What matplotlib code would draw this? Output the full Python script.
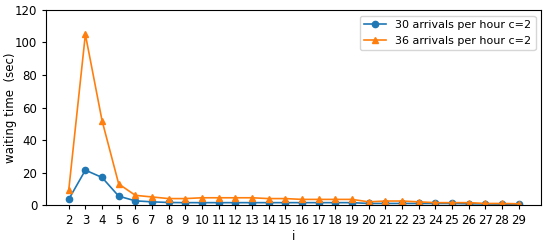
import numpy as np
import matplotlib
matplotlib.use('Agg')
from matplotlib import pyplot as plt

servers = list(range(2, 30))
wait_30 = [3.5, 21.5, 17, 5.5, 2.6, 2, 1.6, 1.5, 1.5, 1.5, 1.5, 1.5, 1.5, 1.5,
           1.5, 1.5, 1.5, 1.5, 1, 1, 1, 1, 1, 1, 0.8, 0.7, 0.6, 0.5]
wait_36 = [9, 105, 52, 13, 6, 5, 4, 4, 4.5, 4.5, 4.5, 4.5, 4, 4,
           3.5, 3.5, 3.5, 3.5, 2, 2.5, 2.5, 2, 1.5, 1.5, 1.5, 1, 1, 0.8]
labels = ['30 arrivals per hour c=2', '36 arrivals per hour c=2']

plt.rcParams['font.size'] = 8.5
plt.rcParams['axes.linewidth'] = 0.8

fig = plt.figure(figsize=(5.5, 2.43), dpi=100)
ax = fig.add_axes([0.084, 0.156, 0.9, 0.803])
ax.plot(servers, wait_30, marker='o', markersize=4.5, linewidth=1.2, label=labels[0])
ax.plot(servers, wait_36, marker='^', markersize=4.5, linewidth=1.2, label=labels[1])
ax.set_ylim(0, 120)
ax.set_xticks(servers)
ax.tick_params(length=3)
ax.set_xlabel('i', labelpad=2)
ax.set_ylabel('waiting time  (sec)')
ax.yaxis.set_label_coords(-0.058, 0.5)
ax.legend(loc='upper right', fontsize=8)

fig.savefig('out.png', dpi=100)
